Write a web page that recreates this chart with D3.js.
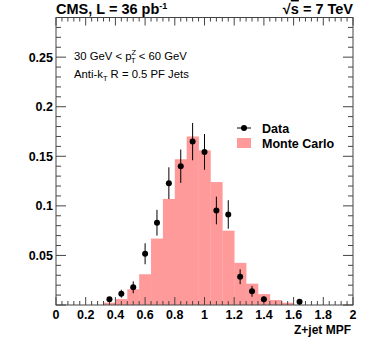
<!DOCTYPE html>
<html><head><meta charset="utf-8">
<script src="https://cdn.jsdelivr.net/npm/d3@7"></script>
<style>body{margin:0;background:#fff}svg{display:block}</style>
</head><body>
<script>
const binWidth = 0.08;
const mcBinLow = [0.32,0.40,0.48,0.56,0.64,0.72,0.80,0.88,0.96,1.04,1.12,1.20,1.28,1.36,1.44,1.52];
const mcValues = [0.0023,0.006,0.0158,0.031,0.067,0.107,0.147,0.170,0.156,0.124,0.075,0.0425,0.0215,0.011,0.005,0.0023];
const dataX = [0.36,0.44,0.52,0.60,0.68,0.76,0.84,0.92,1.00,1.08,1.16,1.24,1.32,1.40,1.64];
const dataY = [0.0057,0.0114,0.0178,0.0517,0.083,0.1229,0.140,0.1648,0.1544,0.0953,0.0913,0.0285,0.0138,0.0057,0.0033];
const dataErr = [0.002,0.004,0.006,0.0106,0.013,0.016,0.0168,0.0188,0.018,0.014,0.0144,0.0075,0.0055,0.003,0.002];
const xTickLabels = [0,0.2,0.4,0.6,0.8,1,1.2,1.4,1.6,1.8,2];
const yTickLabels = [0.05,0.1,0.15,0.2,0.25];

const W=374,H=359;
const L=56,R=353,T=17.5,B=305;
const svg=d3.select("body").append("svg").attr("width",W).attr("height",H);
const x=d3.scaleLinear().domain([0,2]).range([L,R]);
const y=d3.scaleLinear().domain([0,0.29]).range([B,T]);
const font="'Liberation Sans', Arial, Helvetica, sans-serif";
const pink="#ff9a9a";

// MC histogram
svg.append("g").selectAll("rect").data(mcBinLow).join("rect")
  .attr("x",d=>x(d)).attr("width",d=>x(d+binWidth)-x(d)+0.3)
  .attr("y",(d,i)=>y(mcValues[i])).attr("height",(d,i)=>y(0)-y(mcValues[i]))
  .attr("fill",pink);

// Axes with ticks inside
const ax="#444";
const frame=svg.append("g");
frame.append("rect").attr("x",L).attr("y",T).attr("width",R-L).attr("height",B-T)
  .attr("fill","none").attr("stroke",ax).attr("stroke-width",1);
const xMinor=d3.range(0,2.0001,0.04);
xMinor.forEach(v=>{
  const major=Math.abs(v/0.2-Math.round(v/0.2))<1e-6;
  const len=major?8:4;
  frame.append("line").attr("x1",x(v)).attr("x2",x(v)).attr("y1",B).attr("y2",B-len).attr("stroke",ax);
  frame.append("line").attr("x1",x(v)).attr("x2",x(v)).attr("y1",T).attr("y2",T+len).attr("stroke",ax);
});
const yMinor=d3.range(0,0.2901,0.01);
yMinor.forEach(v=>{
  const major=Math.abs(v/0.05-Math.round(v/0.05))<1e-6;
  const len=major?10:5;
  frame.append("line").attr("y1",y(v)).attr("y2",y(v)).attr("x1",L).attr("x2",L+len).attr("stroke",ax);
  frame.append("line").attr("y1",y(v)).attr("y2",y(v)).attr("x1",R).attr("x2",R-len).attr("stroke",ax);
});
// Tick labels
svg.append("g").selectAll("text").data(xTickLabels).join("text")
  .attr("x",d=>x(d)).attr("y",319).attr("text-anchor","middle")
  .attr("font-family",font).attr("font-weight","bold").attr("font-size",12.5).text(d=>d);
svg.append("g").selectAll("text").data(yTickLabels).join("text")
  .attr("x",53).attr("y",d=>y(d)+4.5).attr("text-anchor","end")
  .attr("font-family",font).attr("font-weight","bold").attr("font-size",12.5).text(d=>d);
svg.append("text").attr("x",351).attr("y",334).attr("text-anchor","end")
  .attr("font-family",font).attr("font-weight","bold").attr("font-size",12).text("Z+jet MPF");

// Data points
const dg=svg.append("g");
dataX.forEach((d,i)=>{
  dg.append("line").attr("x1",x(d)).attr("x2",x(d)).attr("y1",y(dataY[i]-dataErr[i])).attr("y2",y(dataY[i]+dataErr[i]))
    .attr("stroke","#000").attr("stroke-width",1);
});
dg.selectAll("circle").data(dataX).join("circle")
  .attr("cx",d=>x(d)).attr("cy",(d,i)=>y(dataY[i])).attr("r",3).attr("fill","#000");

// Title
const t1=svg.append("text").attr("x",56).attr("y",14).attr("font-family",font).attr("font-weight","bold").attr("font-size",14.5);
t1.append("tspan").text("CMS, L = 36 pb");
t1.append("tspan").attr("dy",-5).attr("font-size",9).text("-1");
const t2=svg.append("text").attr("x",353).attr("y",14).attr("text-anchor","end").attr("font-family",font).attr("font-weight","bold").attr("font-size",14.5);
t2.append("tspan").text("√");
t2.append("tspan").attr("text-decoration","overline").text("s");
t2.append("tspan").text(" = 7 TeV");

// Annotations
const a1=svg.append("text").attr("x",74).attr("y",60).attr("font-family",font).attr("font-size",11.3);
a1.append("tspan").text("30 GeV < p");
a1.append("tspan").attr("dy",-5).attr("font-size",7.5).text("Z");
a1.append("tspan").attr("dx",-5).attr("dy",8).attr("font-size",7.5).text("T");
a1.append("tspan").attr("dy",-3).text(" < 60 GeV");
const a2=svg.append("text").attr("x",74).attr("y",78).attr("font-family",font).attr("font-size",11.3);
a2.append("tspan").text("Anti-k");
a2.append("tspan").attr("dy",3).attr("font-size",7.5).text("T");
a2.append("tspan").attr("dy",-3).text(" R = 0.5 PF Jets");

// Legend
const lg=svg.append("g");
lg.append("line").attr("x1",237).attr("x2",251).attr("y1",128).attr("y2",128).attr("stroke","#000");
lg.append("circle").attr("cx",244).attr("cy",128).attr("r",3).attr("fill","#000");
lg.append("text").attr("x",262).attr("y",132.5).attr("font-family",font).attr("font-weight","bold").attr("font-size",12.5).text("Data");
lg.append("rect").attr("x",237).attr("y",138).attr("width",14).attr("height",10).attr("fill",pink);
lg.append("text").attr("x",262).attr("y",148).attr("font-family",font).attr("font-weight","bold").attr("font-size",12.5).text("Monte Carlo");
</script>
</body></html>
